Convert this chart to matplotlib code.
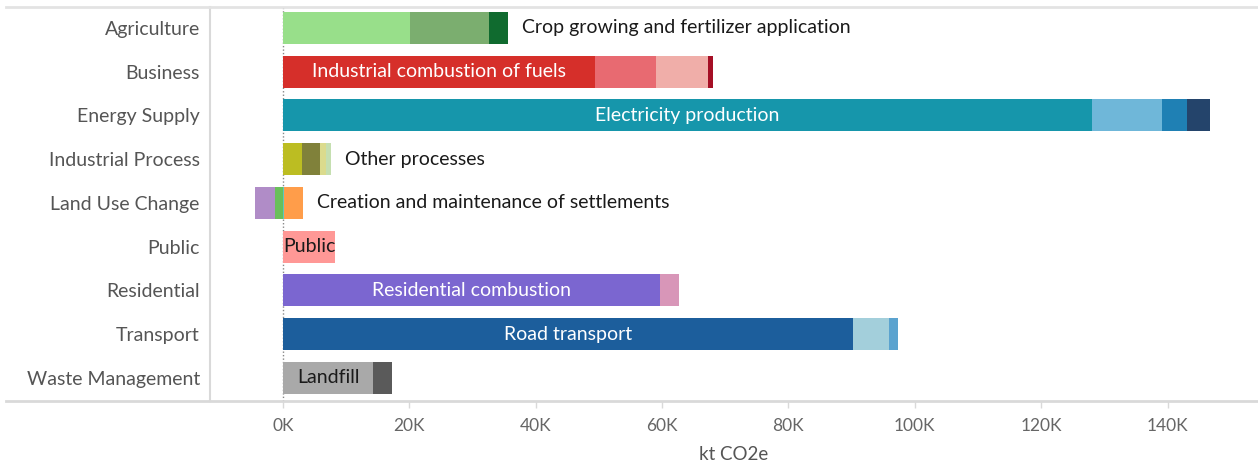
import matplotlib.pyplot as plt
from matplotlib.lines import Line2D
from matplotlib.ticker import FuncFormatter

plt.rcParams['font.family'] = ['Lato', 'DejaVu Sans']

sectors = ['Agriculture', 'Business', 'Energy Supply', 'Industrial Process',
           'Land Use Change', 'Public', 'Residential', 'Transport', 'Waste Management']

# kt CO2e per sub-source (negatives = removals)
agriculture = [20200, 12500, 3000]
business = [49400, 9700, 8100, 800]
energy_supply = [128100, 11000, 4000, 3600]
industrial_process = [3000, 2900, 1000, 800]
land_use_change = [3000, 200, -1200, -3200]
public = [8300]
residential = [59700, 3000]
transport = [90200, 5700, 1400]
waste_management = [14300, 2900]

top_source = ['Crop growing and fertilizer application', 'Industrial combustion of fuels',
              'Electricity production', 'Other processes',
              'Creation and maintenance of settlements', 'Public',
              'Residential combustion', 'Road transport', 'Landfill']

values = [agriculture, business, energy_supply, industrial_process, land_use_change,
          public, residential, transport, waste_management]

colors = [
    ['#98df8a', '#7bae6f', '#106b2f'],
    ['#d62f2a', '#e86a71', '#f0aea9', '#a50f25'],
    ['#1696ab', '#6fb7d9', '#1f80b4', '#24446b'],
    ['#bcbd22', '#80813a', '#dbdb8d', '#c5dfb0'],
    ['#ff9d4a', '#5fc7c0', '#6abf5a', '#b08cc7'],
    ['#ff9896'],
    ['#7b66d0', '#d896b8'],
    ['#1c5e9c', '#a3cfdb', '#5ba3cf'],
    ['#a9a9a9', '#5a5a5a'],
]
# small segments that sit right on the zero line
first_at_zero = [False, False, False, False, True, False, False, False, False]
label_inside = [False, True, True, False, False, True, True, True, True]
label_color = ['#1a1a1a', 'white', 'white', '#1a1a1a', '#1a1a1a', '#1a1a1a', 'white', 'white', '#1a1a1a']

fig = plt.figure(figsize=(12.58, 4.70), dpi=100)
ax = fig.add_axes([209.5 / 1258, 69 / 470, 1 - 209.5 / 1258, 394 / 470])

# zero reference line
ax.axvline(0, color='#888888', lw=1, ls=(0, (1, 1.5)), zorder=0)

for i, (vals, cols) in enumerate(zip(values, colors)):
    pairs = list(zip(vals, cols))
    if first_at_zero[i]:
        pairs = [pairs[1], pairs[0]] + pairs[2:]
    pos, neg = 0, 0
    for v, c in pairs:
        if v >= 0:
            ax.barh(i, v, left=pos, height=0.73, color=c, zorder=2)
            pos += v
        else:
            ax.barh(i, v, left=neg, height=0.73, color=c, zorder=2)
            neg += v
    if label_inside[i]:
        ax.text(vals[0] / 2, i, top_source[i], ha='center', va='center',
                color=label_color[i], fontsize=14, zorder=3)
    else:
        ax.annotate(top_source[i], (pos, i), xytext=(10, 0), textcoords='offset points',
                    ha='left', va='center', color=label_color[i], fontsize=14, zorder=3)

ax.set_xlim(-11600, 154300)
ax.set_ylim(8.53, -0.48)
ax.set_yticks(range(len(sectors)))
ax.set_yticklabels(sectors)
ax.set_xticks(range(0, 160000, 20000))
ax.xaxis.set_major_formatter(FuncFormatter(lambda x, p: f'{int(x / 1000)}K'))
ax.set_xlabel('kt CO2e', fontsize=13.5, color='#555555', labelpad=9)

ax.tick_params(axis='y', length=0, pad=7, labelsize=14, labelcolor='#555555')
ax.tick_params(axis='x', length=5, width=1, color='#d9d9d9', pad=7,
               labelsize=12.5, labelcolor='#666666')

for s in ['top', 'right', 'bottom']:
    ax.spines[s].set_visible(False)
ax.spines['left'].set_color('#d9d9d9')
ax.spines['left'].set_linewidth(1.5)

fig.add_artist(Line2D([6 / 1258, 1], [69 / 470, 69 / 470], color='#d9d9d9', lw=2))
fig.add_artist(Line2D([6 / 1258, 1], [463 / 470, 463 / 470], color='#e3e3e3', lw=2))

fig.savefig('out.png', dpi=100)
